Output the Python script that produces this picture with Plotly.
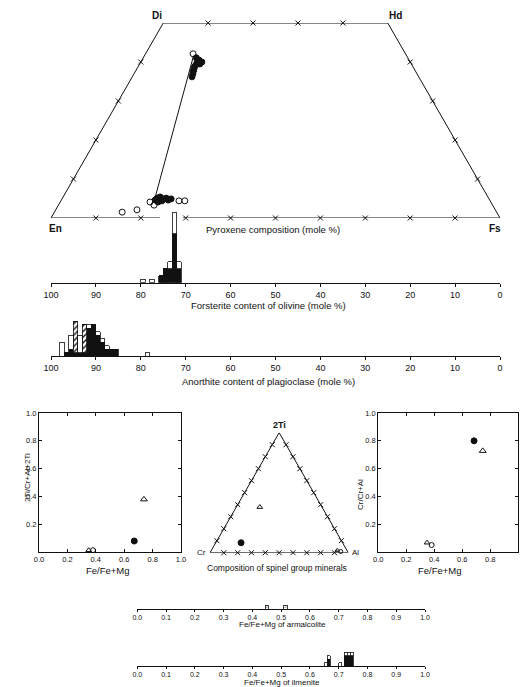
import math
import plotly.graph_objects as go

W, H = 522, 687
S3 = math.sqrt(3) / 2

# ---------------- data ----------------
# Pyroxene quadrilateral, compositions in mole % (Wo, Fs)
aug_filled_wo = [41.1, 40.5, 40.0, 39.5, 39.8, 39.0, 38.0, 37.0, 36.2]
aug_filled_fs = [11.8, 12.7, 13.6, 13.4, 12.6, 12.6, 12.8, 13.1, 13.3]
aug_open_wo = [42.1, 38.5, 37.5]
aug_open_fs = [10.6, 12.6, 12.9]
pig_filled_wo = [5.1, 5.4, 4.9, 5.1, 4.1, 4.4, 4.6, 4.6, 4.9]
pig_filled_fs = [21.1, 21.6, 22.5, 23.1, 21.8, 22.5, 23.8, 20.9, 24.3]
pig_open_wo = [4.1, 3.3, 4.4, 4.4, 1.5, 2.1]
pig_open_fs = [20.0, 21.3, 26.3, 27.6, 15.1, 18.1]
tie_wo = [41.4, 5.1]
tie_fs = [11.0, 20.6]

# Olivine, forsterite content (mole %), counts per 1 % bin
ol_bins = [79.5, 77.5, 75.5, 74.5, 73.5, 72.5, 71.5]
ol_black = [0, 0, 2, 4, 4, 14, 4]
ol_open = [1, 1, 0, 0, 2, 6, 2]

# Plagioclase, anorthite content (mole %)
an_bins = [97.5, 96.5, 95.5, 94.5, 93.5, 92.5, 91.5, 90.5, 89.5, 88.5, 87.5, 86.5, 85.5, 78.5]
an_black = [0, 1, 2, 1, 1, 1, 8, 9, 6, 4, 2, 2, 2, 0]
an_hatch = [0, 0, 0, 9, 0, 8, 0, 0, 0, 0, 0, 0, 0, 0]
an_open = [4, 0, 4, 0, 5, 0, 1, 0, 1, 1, 1, 0, 0, 1]

# Spinel group: Fe/Fe+Mg vs 2Ti/Cr+Al+2Ti
sp_l_fill_x, sp_l_fill_y = [0.671], [0.081]
sp_l_tri_x, sp_l_tri_y = [0.739], [0.38]
sp_l_otri_x, sp_l_otri_y = [0.35], [0.015]
sp_l_ocir_x, sp_l_ocir_y = [0.38], [0.015]
# Spinel ternary (Cr, Al, 2Ti fractions)
tern_fill = dict(cr=[0.734], al=[0.183], ti=[0.083])
tern_tri = dict(cr=[0.45], al=[0.17], ti=[0.38])
tern_otri = dict(cr=[0.07], al=[0.91], ti=[0.02])
tern_ocir = dict(cr=[0.05], al=[0.94], ti=[0.01])
# Spinel group: Fe/Fe+Mg vs Cr/Cr+Al
sp_r_fill_x, sp_r_fill_y = [0.684], [0.80]
sp_r_tri_x, sp_r_tri_y = [0.746], [0.728]
sp_r_otri_x, sp_r_otri_y = [0.348], [0.069]
sp_r_ocir_x, sp_r_ocir_y = [0.381], [0.052]

# Armalcolite Fe/Fe+Mg (grains per box)
arm_vals = [0.45, 0.515]
arm_counts = [2, 2]

# Ilmenite Fe/Fe+Mg histogram
ilm_bins = [0.655, 0.665, 0.705, 0.725, 0.735, 0.745]
ilm_black = [0, 2, 0, 3, 3, 3]
ilm_open = [1, 1, 1, 1, 1, 1]

frac_ticks = [0.0, 0.2, 0.4, 0.6, 0.8, 1.0]
pct_ticks = list(range(0, 101, 10))
tenth_ticks = [i / 10 for i in range(11)]

# ---------------- helpers ----------------
BLACK = "#111111"
FONT = "Liberation Sans"


def dx(a, b):
    return [a / W, b / W]


def dy(top, bot):
    return [1 - bot / H, 1 - top / H]


def pyx(wo, fs):
    return [f + w / 2 for w, f in zip(wo, fs)], [w * S3 for w in wo]


def tern(d):
    return [a + t / 2 for a, t in zip(d["al"], d["ti"])], [t * S3 for t in d["ti"]]


fig = go.Figure()


def sc(x, y, ax, symbol, size=6, mode="markers", lw=1):
    fig.add_trace(go.Scatter(
        x=x, y=y, mode=mode, xaxis="x" + ax, yaxis="y" + ax,
        marker=dict(symbol=symbol, size=size, color=BLACK,
                    line=dict(color=BLACK, width=lw)),
        line=dict(color=BLACK, width=1),
        cliponaxis=False, hoverinfo="skip", showlegend=False))


# ---- pyroxene quadrilateral ----
top = 50 * S3
fig.add_trace(go.Scatter(x=[29.4, 100, 75, 25, 0, 24.3], y=[0, 0, top, top, 0, 0],
                         mode="lines", line=dict(color=BLACK, width=1),
                         xaxis="x", yaxis="y", hoverinfo="skip", showlegend=False))
tx, ty = [], []
for t in range(10, 100, 10):
    tx.append(t); ty.append(0)
for w in range(10, 50, 10):
    tx += [25 + w, w / 2, 100 - w / 2]
    ty += [top, w * S3, w * S3]
sc(tx, ty, "", "x-thin", size=5)
x, y = pyx(tie_wo, tie_fs)
sc(x, y, "", "circle", mode="lines")
x, y = pyx(aug_filled_wo, aug_filled_fs); sc(x, y, "", "circle", 6)
x, y = pyx(pig_filled_wo, pig_filled_fs); sc(x, y, "", "circle", 6)
x, y = pyx(aug_open_wo, aug_open_fs); sc(x, y, "", "circle-open", 6)
x, y = pyx(pig_open_wo, pig_open_fs); sc(x, y, "", "circle-open", 6)


# ---- histograms ----
def bars(x, y, ax, kind, width):
    if kind == "black":
        marker = dict(color=BLACK, line=dict(color=BLACK, width=0.8))
    elif kind == "hatch":
        marker = dict(color="white", line=dict(color=BLACK, width=0.8),
                      pattern=dict(shape="/", fgcolor=BLACK, bgcolor="white", size=4, solidity=0.35))
    else:
        marker = dict(color="white", line=dict(color=BLACK, width=0.8))
    fig.add_trace(go.Bar(x=x, y=y, width=width, marker=marker, xaxis="x" + ax, yaxis="y" + ax,
                         hoverinfo="skip", showlegend=False))


bars(ol_bins, ol_black, "2", "black", 1)
bars(ol_bins, ol_open, "2", "open", 1)
bars(an_bins, an_black, "3", "black", 1)
bars(an_bins, an_hatch, "3", "hatch", 1)
bars(an_bins, an_open, "3", "open", 1)
bars(ilm_bins, ilm_black, "8", "black", 0.01)
bars(ilm_bins, ilm_open, "8", "open", 0.01)
fig.add_trace(go.Bar(x=arm_vals, y=arm_counts, width=0.012, text=[str(c) for c in arm_counts],
                     textposition="inside", insidetextanchor="middle",
                     textfont=dict(size=5, color=BLACK, family=FONT),
                     marker=dict(color="white", line=dict(color=BLACK, width=0.8)),
                     xaxis="x7", yaxis="y7", hoverinfo="skip", showlegend=False))

# ---- spinel left scatter ----
sc(sp_l_fill_x, sp_l_fill_y, "4", "circle", 6)
sc(sp_l_tri_x, sp_l_tri_y, "4", "triangle-up-open", 6)
sc(sp_l_otri_x, sp_l_otri_y, "4", "triangle-up-open", 5)
sc(sp_l_ocir_x, sp_l_ocir_y, "4", "circle-open", 5)

# ---- spinel ternary ----
fig.add_trace(go.Scatter(x=[0, 1, 0.5, 0], y=[0, 0, S3, 0], mode="lines",
                         line=dict(color=BLACK, width=1), xaxis="x5", yaxis="y5",
                         hoverinfo="skip", showlegend=False))
tx, ty = [], []
for i in range(1, 10):
    f = i / 10
    tx += [f, f / 2, 1 - f / 2]
    ty += [0, f * S3, f * S3]
sc(tx, ty, "5", "x-thin", size=5)
x, y = tern(tern_fill); sc(x, y, "5", "circle", 6)
x, y = tern(tern_tri); sc(x, y, "5", "triangle-up-open", 5)
x, y = tern(tern_otri); sc(x, y, "5", "triangle-up-open", 4)
x, y = tern(tern_ocir); sc(x, y, "5", "circle-open", 4)

# ---- spinel right scatter ----
sc(sp_r_fill_x, sp_r_fill_y, "6", "circle", 6)
sc(sp_r_tri_x, sp_r_tri_y, "6", "triangle-up-open", 6)
sc(sp_r_otri_x, sp_r_otri_y, "6", "triangle-up-open", 5)
sc(sp_r_ocir_x, sp_r_ocir_y, "6", "circle-open", 5)

# ---------------- layout ----------------
hidden = dict(visible=False, showgrid=False, zeroline=False, fixedrange=True, automargin=False)


def hist_x(dom, rng, vals, labels, size, ticklen=3):
    return dict(domain=dom, range=rng, tickvals=vals, ticktext=labels, showline=True,
                linecolor=BLACK, linewidth=1, ticks="outside", ticklen=ticklen, tickcolor=BLACK,
                tickwidth=1, showgrid=False, zeroline=False, automargin=False,
                tickfont=dict(size=size, color=BLACK, family=FONT))


def box_ax(dom, vals, labels):
    return dict(domain=dom, range=[0, 1], tickvals=vals, ticktext=labels, showline=True,
                mirror="ticks", linecolor=BLACK, linewidth=1, ticks="inside", ticklen=3,
                tickcolor=BLACK, showgrid=False, zeroline=False, automargin=False,
                tickfont=dict(size=7.5, color=BLACK, family=FONT))


frac_lbl = ["%.1f" % v for v in frac_ticks]
tenth_lbl = ["%.1f" % v for v in tenth_ticks]
layout = dict(
    template="none",
    width=W, height=H, margin=dict(l=0, r=0, t=0, b=0, pad=0, autoexpand=False),
    paper_bgcolor="white", plot_bgcolor="rgba(0,0,0,0)",
    barmode="stack", bargap=0, showlegend=False,
    font=dict(family=FONT, color=BLACK),
    xaxis=dict(hidden, domain=dx(51, 500), range=[0, 100], anchor="y"),
    yaxis=dict(hidden, domain=dy(23, 218), range=[0, top], anchor="x"),
    xaxis2=dict(hist_x(dx(51, 500), [100, 0], pct_ticks, [str(v) for v in pct_ticks], 9), anchor="y2"),
    yaxis2=dict(hidden, domain=dy(282.7 - 22 * 3.5, 282.7), range=[0, 22], anchor="x2"),
    xaxis3=dict(hist_x(dx(51, 500), [100, 0], pct_ticks, [str(v) for v in pct_ticks], 9), anchor="y3"),
    yaxis3=dict(hidden, domain=dy(356 - 14 * 3.5, 356), range=[0, 14], anchor="x3"),
    xaxis4=dict(box_ax(dx(39, 181), frac_ticks, frac_lbl), anchor="y4"),
    yaxis4=dict(box_ax(dy(413, 552.3), frac_ticks[1:], frac_lbl[1:]), anchor="x4"),
    xaxis5=dict(hidden, domain=dx(210, 348.3), range=[0, 1], anchor="y5"),
    yaxis5=dict(hidden, domain=dy(432.7, 552.7), range=[0, S3], anchor="x5"),
    xaxis6=dict(box_ax(dx(378.3, 518.3), frac_ticks, frac_lbl), anchor="y6"),
    yaxis6=dict(box_ax(dy(413, 552.3), frac_ticks[1:], frac_lbl[1:]), anchor="x6"),
    xaxis7=dict(hist_x(dx(137.3, 425), [0, 1], tenth_ticks, tenth_lbl, 7, 2), anchor="y7"),
    yaxis7=dict(hidden, domain=dy(609 - 12, 609), range=[0, 6], anchor="x7"),
    xaxis8=dict(hist_x(dx(137.3, 425), [0, 1], tenth_ticks, tenth_lbl, 7, 2), anchor="y8"),
    yaxis8=dict(hidden, domain=dy(666 - 21, 666), range=[0, 6], anchor="x8"),
)


def ann(text, px, py, size=9, angle=0, bold=False):
    return dict(text=("<b>%s</b>" % text) if bold else text, x=px / W, y=1 - py / H,
                xref="paper", yref="paper", showarrow=False, textangle=angle,
                xanchor="center", yanchor="middle",
                font=dict(size=size, color=BLACK, family=FONT))


layout["annotations"] = [
    ann("Di", 157, 15, 10, bold=True),
    ann("Hd", 395, 15, 10, bold=True),
    ann("En", 55, 228, 10, bold=True),
    ann("Fs", 495, 228, 10, bold=True),
    ann("Pyroxene composition (mole %)", 273, 230, 9.5),
    ann("Forsterite content of olivine (mole %)", 268, 306, 9.5),
    ann("Anorthite content of plagioclase (mole %)", 268, 381, 9.5),
    ann("2Ti/Cr+Al+2Ti", 27, 478, 8, angle=-90),
    ann("Fe/Fe+Mg", 108, 570, 9.5),
    ann("2Ti", 279, 425, 9, bold=True),
    ann("Cr", 201, 552, 8),
    ann("Al", 355, 552, 8),
    ann("Composition of spinel group minerals", 277, 568, 8.5),
    ann("Cr/Cr+Al", 360, 495, 8, angle=-90),
    ann("Fe/Fe+Mg", 440, 570, 9.5),
    ann("Fe/Fe+Mg of armalcolite", 282, 624, 8),
    ann("Fe/Fe+Mg of ilmenite", 282, 682, 8),
]

fig.update_layout(layout)
fig.write_html("out.html", config={"displayModeBar": False, "staticPlot": True},
               post_script="document.body.style.margin='0';document.body.style.padding='0';")
